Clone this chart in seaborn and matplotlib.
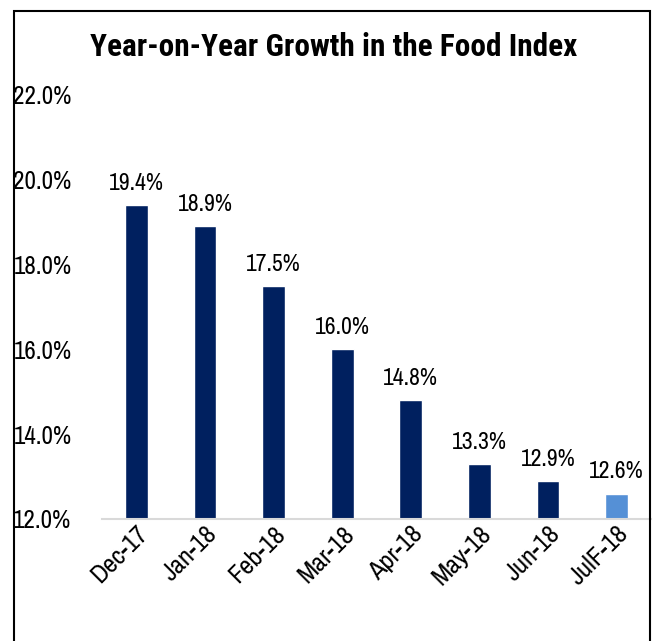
import matplotlib
matplotlib.use("Agg")
import matplotlib.pyplot as plt
from matplotlib import font_manager
from matplotlib.patches import Rectangle
import seaborn as sns
import pandas as pd

months = ["Dec-17", "Jan-18", "Feb-18", "Mar-18", "Apr-18", "May-18", "Jun-18", "JulF-18"]
growth = [19.4, 18.9, 17.5, 16.0, 14.8, 13.3, 12.9, 12.6]
bar_colors = ["#00205F"] * 7 + ["#5590D6"]
y_ticks = [12, 14, 16, 18, 20, 22]
title = "Year-on-Year Growth in the Food Index"

sns.set_theme(style="white")

fonts = {}
for f in font_manager.fontManager.ttflist:
    fonts.setdefault(f.name, set()).add(f.weight if isinstance(f.weight, int) else 400)

prefs = ["Liberation Sans Narrow", "Arial Narrow", "Archivo Narrow", "Roboto Condensed",
         "Arimo", "Liberation Sans"]
fam = next(p for p in prefs + ["DejaVu Sans"] if p in fonts)
bold_fam = next((p for p in prefs if p in fonts and any(w >= 600 for w in fonts[p])), fam)
plt.rcParams["font.family"] = [fam, "DejaVu Sans"]

df = pd.DataFrame({"month": months, "growth": growth})

fig = plt.figure(figsize=(6.56, 6.41), dpi=100)
W, H = 656, 641
ax = fig.add_axes([102 / W, 1 - 519 / H, (651 - 102) / W, (519 - 95) / H])

sns.barplot(data=df, x="month", y="growth", hue="month", palette=bar_colors,
            legend=False, width=0.33, ax=ax, saturation=1)

ax.set_ylim(12, 22)
ax.set_xlim(-0.5, len(months) - 0.5)
ax.set_yticks(y_ticks)
ax.set_yticklabels([f"{v:.1f}%" for v in y_ticks], fontsize=18, color="black")
ax.tick_params(axis="y", length=0, pad=22)
ax.tick_params(axis="x", length=0, pad=2)
ax.set_xticks(range(len(months)))
ax.set_xticklabels(months, rotation=45, ha="right", rotation_mode="anchor",
                   fontsize=19, color="black")
ax.set_xlabel("")
ax.set_ylabel("")
for s in ["top", "right", "left"]:
    ax.spines[s].set_visible(False)
ax.spines["bottom"].set_color("#D9D9D9")
ax.spines["bottom"].set_linewidth(1.5)
ax.grid(False)

for i, v in enumerate(growth):
    ax.annotate(f"{v:.1f}%", (i, v), xytext=(0, 8), textcoords="offset points",
                ha="center", va="bottom", fontsize=17, color="black")

fig.text(334 / W, 1 - 47 / H, title, ha="center", va="center",
         fontsize=22.5, fontweight="bold", color="black", family=[bold_fam, "DejaVu Sans"])

fig.patches.append(Rectangle((14 / W, -0.05), (650 - 14) / W, 1.05 - 11 / H,
                             transform=fig.transFigure, fill=False,
                             edgecolor="black", linewidth=1.5))

fig.savefig("out.png", dpi=100)
